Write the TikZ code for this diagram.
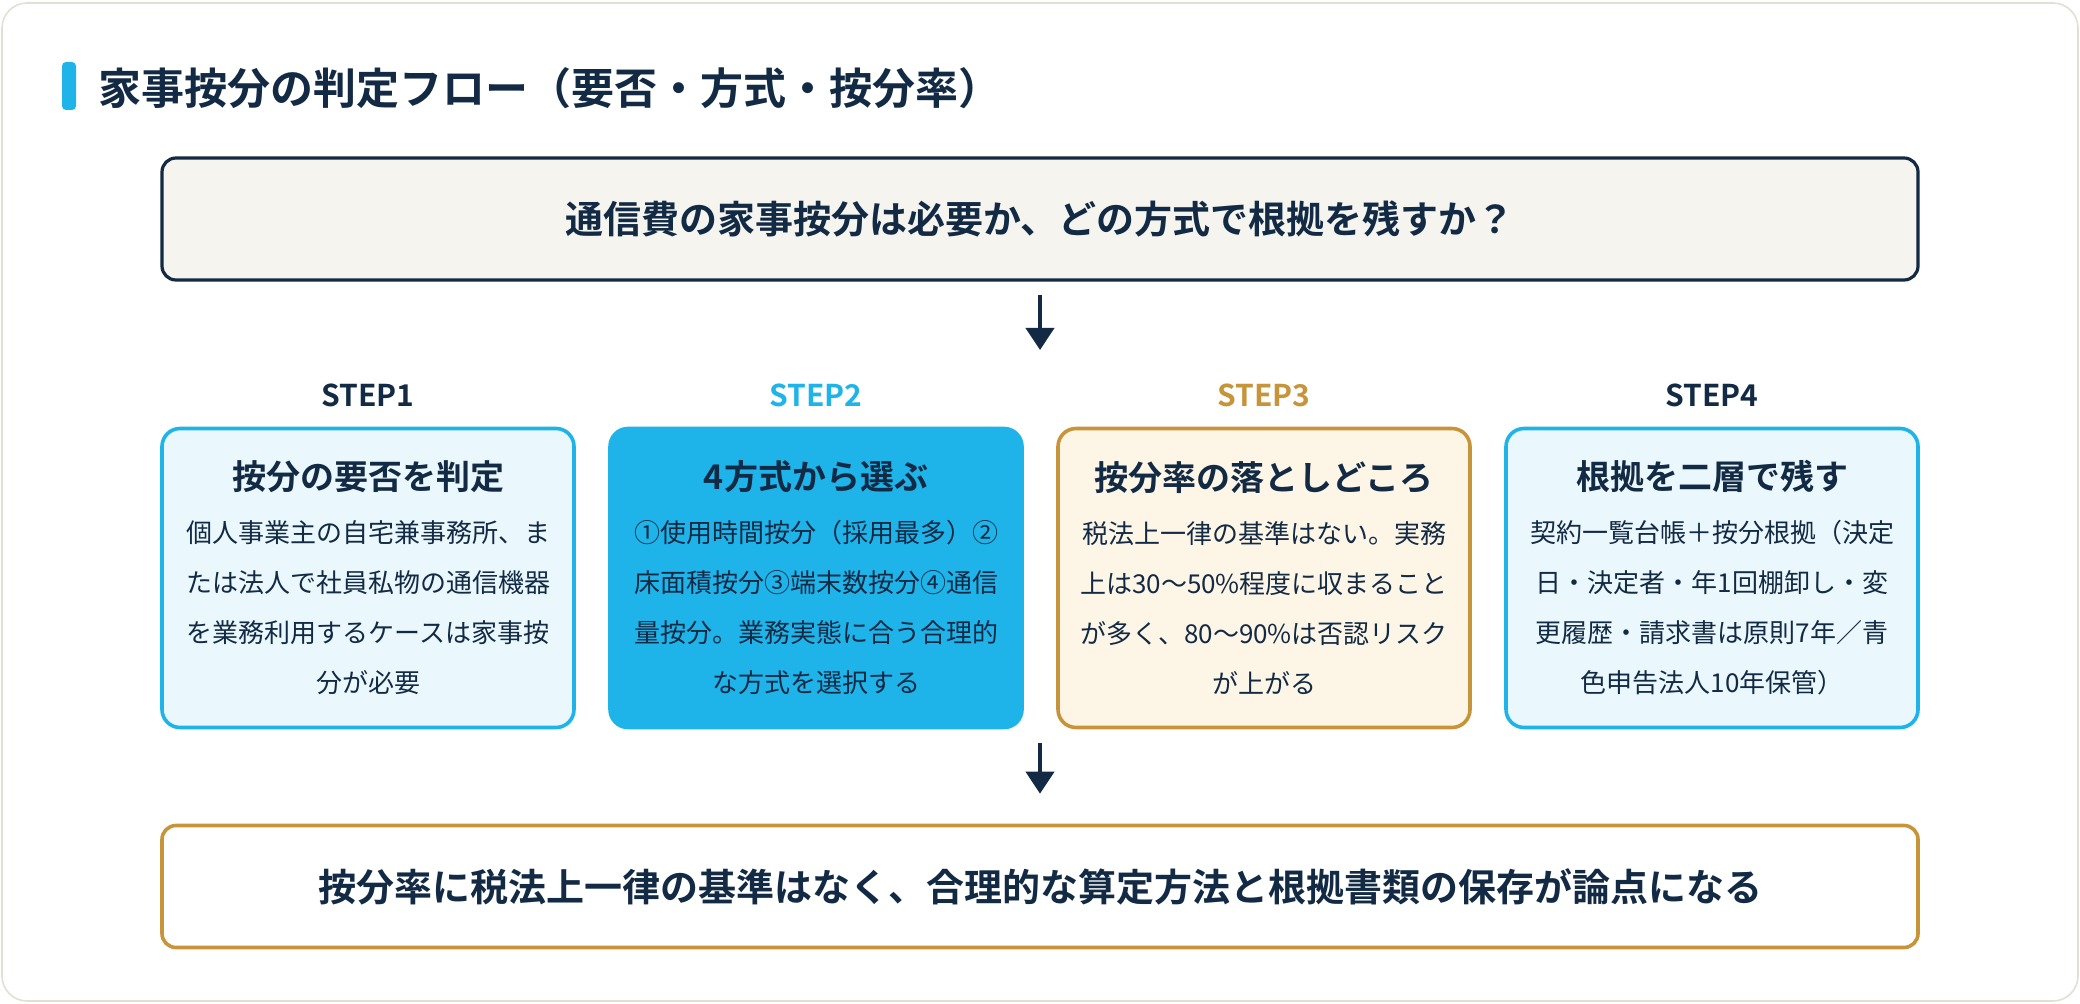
\documentclass[tikz,border=0pt]{standalone}
\usepackage{fontspec}
\setmainfont{Noto Sans CJK JP}[BoldFont={* Bold}]
\usetikzlibrary{calc,arrows.meta}
\definecolor{navy}{HTML}{132A44}
\definecolor{sky}{HTML}{1EB4EA}
\definecolor{skylt}{HTML}{EAF8FD}
\definecolor{gold}{HTML}{C8943A}
\definecolor{cream}{HTML}{FDF5E6}
\definecolor{paper}{HTML}{F5F4EF}
\definecolor{cardline}{HTML}{E2E0D5}

\begin{document}
\begin{tikzpicture}[x=0.5pt, y=-0.5pt,
    wide/.style={rounded corners=7pt, minimum width=878pt, minimum height=61pt,
      text=navy, font=\fontsize{19}{23}\selectfont\bfseries},
    stepbox/.style={rounded corners=9pt, line width=1.8pt, minimum width=206pt,
      minimum height=149.5pt, align=center, text=navy, font=\fontsize{13}{25}\selectfont},
    steplabel/.style={font=\fontsize{15}{18}\selectfont\bfseries},
    flowarrow/.style={navy, line width=2pt, -{Triangle[length=11pt, width=14pt]}}]
    \useasboundingbox (0,0) rectangle (2080,1004);
    \draw[cardline, line width=0.8pt, fill=white, rounded corners=12.5pt] (2,3) rectangle (2078,1001);
    \fill[sky, rounded corners=2pt] (62,62) rectangle (76,110);
    \node[anchor=west, text=navy, font=\fontsize{21.5}{26}\selectfont\bfseries] (title) at (91,88)
      {家事按分の判定フロー（要否・方式・按分率）};

    \node[wide, draw=navy, line width=1.6pt, fill=paper] (q) at (1040,219)
      {通信費の家事按分は必要か、どの方式で根拠を残すか？};

    \node[stepbox, draw=sky, fill=skylt] (s1) at (368,578)
      {{\fontsize{17}{25}\selectfont\bfseries 按分の要否を判定}\\[1.5pt]
       個人事業主の自宅兼事務所、ま\\たは法人で社員私物の通信機器\\
       を業務利用するケースは家事按\\分が必要};
    \node[stepbox, draw=sky, fill=sky] (s2) at (816,578)
      {{\fontsize{17}{25}\selectfont\bfseries 4方式から選ぶ}\\[1.5pt]
       ①使用時間按分（採用最多）②\\床面積按分③端末数按分④通信\\
       量按分。業務実態に合う合理的\\な方式を選択する};
    \node[stepbox, draw=gold, fill=cream] (s3) at (1264,578)
      {{\fontsize{17}{25}\selectfont\bfseries 按分率の落としどころ}\\[1.5pt]
       税法上一律の基準はない。実務\\上は30〜50\%程度に収まること\\
       が多く、80〜90\%は否認リスク\\が上がる};
    \node[stepbox, draw=sky, fill=skylt] (s4) at (1712,578)
      {{\fontsize{17}{25}\selectfont\bfseries 根拠を二層で残す}\\[1.5pt]
       契約一覧台帳＋按分根拠（決定\\日・決定者・年1回棚卸し・変\\
       更履歴・請求書は原則7年／青\\色申告法人10年保管）};
    \foreach \i/\c in {1/navy,2/sky,3/gold,4/navy}
      \node[steplabel, text=\c] (l\i) at ($(s\i.north)+(0,-31)$) {STEP\i};

    \node[wide, draw=gold, line width=1.8pt, fill=white] (c) at (1040,886.5)
      {按分率に税法上一律の基準はなく、合理的な算定方法と根拠書類の保存が論点になる};

    \coordinate (a1) at (1040,350);
    \coordinate (b1) at (1040,743);
    \draw[flowarrow, shorten <=6.5pt] (q.south) -- (a1);
    \draw[flowarrow, shorten >=15pt] (b1) -- (c.north);
\end{tikzpicture}
\end{document}
